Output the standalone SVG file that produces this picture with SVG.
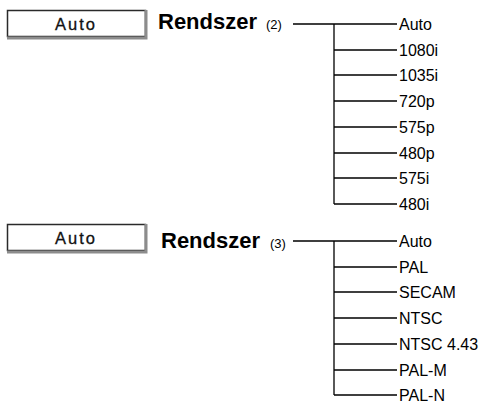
<svg xmlns="http://www.w3.org/2000/svg" width="488" height="403" viewBox="0 0 488 403">
<style>
.bg{fill:#fff}
.btn{fill:#fff;stroke:#2a2a2a;stroke-width:1.5}
.sh{stroke:#8c8c8c;stroke-width:3;fill:none}
.btxt{font-family:"Liberation Sans",Arial,sans-serif;font-size:16.5px;letter-spacing:2px;fill:#111;text-anchor:middle;stroke:#111;stroke-width:0.3}
.title{font-family:"Liberation Sans",Arial,sans-serif;font-size:22px;font-weight:bold;fill:#000}
.num{font-family:"Liberation Sans",Arial,sans-serif;font-size:13px;fill:#000}
.lbl{font-family:"Liberation Sans",Arial,sans-serif;font-size:16px;fill:#000}
.ln{stroke:#000;stroke-width:1.3;fill:none}
</style>
<rect class="bg" width="488" height="403"/>
<g id="button1">
<rect class="btn" x="7.5" y="10.5" width="138" height="26"/>
<polyline class="sh" points="146,10 146,38 7,38"/>
<text class="btxt" x="76" y="30">Auto</text>
</g>
<g id="title1">
<text class="title" x="158" y="29">Rendszer</text>
<text class="num" x="266" y="29">(2)</text>
</g>
<g id="list1">
<text class="lbl" x="399" y="30">Auto</text>
<text class="lbl" x="399" y="56">1080i</text>
<text class="lbl" x="399" y="81">1035i</text>
<text class="lbl" x="399" y="107">720p</text>
<text class="lbl" x="399" y="133">575p</text>
<text class="lbl" x="399" y="159">480p</text>
<text class="lbl" x="399" y="184">575i</text>
<text class="lbl" x="399" y="210">480i</text>
</g>
<g id="button2">
<rect class="btn" x="7.5" y="224.5" width="138" height="26"/>
<polyline class="sh" points="146,224 146,252 7,252"/>
<text class="btxt" x="76" y="244">Auto</text>
</g>
<g id="title2">
<text class="title" x="161" y="248">Rendszer</text>
<text class="num" x="270" y="248">(3)</text>
</g>
<g id="list2">
<text class="lbl" x="399" y="247">Auto</text>
<text class="lbl" x="399" y="273">PAL</text>
<text class="lbl" x="399" y="298">SECAM</text>
<text class="lbl" x="399" y="324">NTSC</text>
<text class="lbl" x="399" y="350">NTSC 4.43</text>
<text class="lbl" x="399" y="376">PAL-M</text>
<text class="lbl" x="399" y="401">PAL-N</text>
</g>
<g id="connectors">
<path class="ln" d="M293,24H397M334,24V204M334,50H397M334,75H397M334,101H397M334,127H397M334,153H397M334,178H397M334,204H397"/>
<path class="ln" d="M293,241H397M334,241V395M334,267H397M334,292H397M334,318H397M334,344H397M334,370H397M334,395H397"/>
</g>
</svg>
